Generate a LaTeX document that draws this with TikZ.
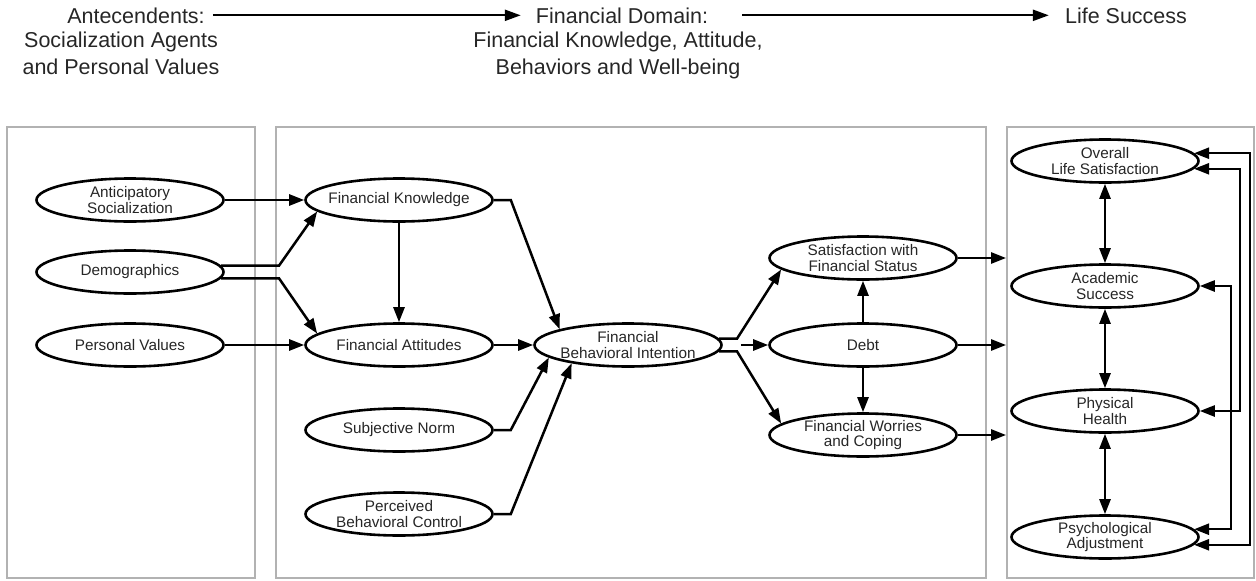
\documentclass[tikz,border=0pt]{standalone}
\usepackage{fontspec}
\setmainfont{Liberation Sans}
\usetikzlibrary{arrows.meta,shapes.geometric,calc}
\begin{document}
\begin{tikzpicture}[x=1pt,y=-1pt,
  ell/.style={draw=black, ellipse, line width=2.6pt, minimum width=187pt, minimum height=43pt,
    inner xsep=-20pt, inner ysep=-6pt, align=center,
    font=\fontsize{15.3}{15.5}\selectfont, text=black!85},
  panel/.style={draw=black!30, line width=1.8pt, rectangle, inner sep=0pt},
  arr/.style={line width=2.5pt, -{Triangle[length=15pt,width=11pt]}},
  darr/.style={line width=2.5pt, {Triangle[length=15pt,width=11pt]}-{Triangle[length=15pt,width=11pt]}},
  head/.style={font=\fontsize{21.5}{26.5}\selectfont, align=center, inner sep=0pt, text=black!85},
  harr/.style={line width=2.3pt, -{Triangle[length=16pt,width=11pt]}}
]
\useasboundingbox (0,0) rectangle (1256,581);

% panels
\node[panel, minimum width=248pt, minimum height=451pt] (p1) at (131,352.5) {};
\node[panel, minimum width=710pt, minimum height=451pt] (p2) at (631,352.5) {};
\node[panel, minimum width=247pt, minimum height=451pt] (p3) at (1130.5,352.5) {};

% headings
\node[head, anchor=base] (h1) at (136,23) {Antecendents:};
\node[head, anchor=north] (h1b) at (121,32) {Socialization Agents\\and Personal Values};
\node[head, anchor=base] (h2) at (622,23) {Financial Domain:};
\node[head, anchor=north] (h2b) at (618,32) {Financial Knowledge, Attitude,\\Behaviors and Well-being};
\node[head, anchor=base] (h3) at (1126,23) {Life Success};
\draw[harr, shorten <=8pt, shorten >=15pt] (h1.east) -- (h2.west);
\draw[harr, shorten <=34pt, shorten >=16pt] (h2.east) -- (h3.west);

% ellipses
\node[ell] (anti) at (130,200) {Anticipatory\\Socialization};
\node[ell] (demo) at (130,272) {Demographics};
\node[ell] (pv) at (130,345) {Personal Values};
\node[ell] (fk) at (399,200) {Financial Knowledge};
\node[ell] (fa) at (399,345) {Financial Attitudes};
\node[ell] (sn) at (399,430) {Subjective Norm};
\node[ell] (pbc) at (399,514) {Perceived\\Behavioral Control};
\node[ell] (fbi) at (628,345) {Financial\\Behavioral Intention};
\node[ell] (sat) at (863,258) {Satisfaction with\\Financial Status};
\node[ell] (debt) at (863,345) {Debt};
\node[ell] (fw) at (863,435) {Financial Worries\\and Coping};
\node[ell] (ols) at (1105,161) {Overall\\Life Satisfaction};
\node[ell] (acad) at (1105,286) {Academic\\Success};
\node[ell] (phys) at (1105,411) {Physical\\Health};
\node[ell] (psy) at (1105,537) {Psychological\\Adjustment};

% connectors
\draw[arr] (anti) -- (fk);
\draw[arr] (demo.4) -- ++(58,0) -- (fk.188);
\draw[arr] (demo.-4) -- ++(58,0) -- (fa.172);
\draw[arr] (pv) -- (fa);
\draw[arr] (fk) -- (fa);
\draw[arr] (fk.east) -- ++(17,0) -- (fbi.167);
\draw[arr] (fa) -- (fbi);
\draw[arr] (sn.east) -- ++(17,0) -- (fbi.189);
\draw[arr] (pbc.east) -- ++(17,0) -- (fbi.198);
\draw[arr] (fbi.4) -- ++(18,0) -- (sat.188);
\draw[arr] (fbi.-4) -- ++(18,0) -- (fw.172);
\draw[arr] ($(fbi.east)+(18,0)$) -- (debt);
\draw[arr] (sat.east) -- (sat.east -| p3.west);
\draw[arr] (debt.east) -- (debt.east -| p3.west);
\draw[arr] (fw.east) -- (fw.east -| p3.west);
\draw[arr] (debt) -- (sat);
\draw[arr] (debt) -- (fw);
\draw[darr] (ols) -- (acad);
\draw[darr] (acad) -- (phys);
\draw[darr] (phys) -- (psy);

% feedback lines
\coordinate (fbA) at (1250,0);
\coordinate (fbB) at (1240,0);
\coordinate (fbC) at (1231,0);
\draw[darr] (ols.5) -- (ols.5 -| fbA) -- (psy.-5 -| fbA) -- (psy.-5);
\draw[darr] (ols.-5) -- (ols.-5 -| fbB) -- (phys.east -| fbB) -- (phys.east);
\draw[darr] (acad.east) -- (acad.east -| fbC) -- (psy.5 -| fbC) -- (psy.5);
\end{tikzpicture}
\end{document}
